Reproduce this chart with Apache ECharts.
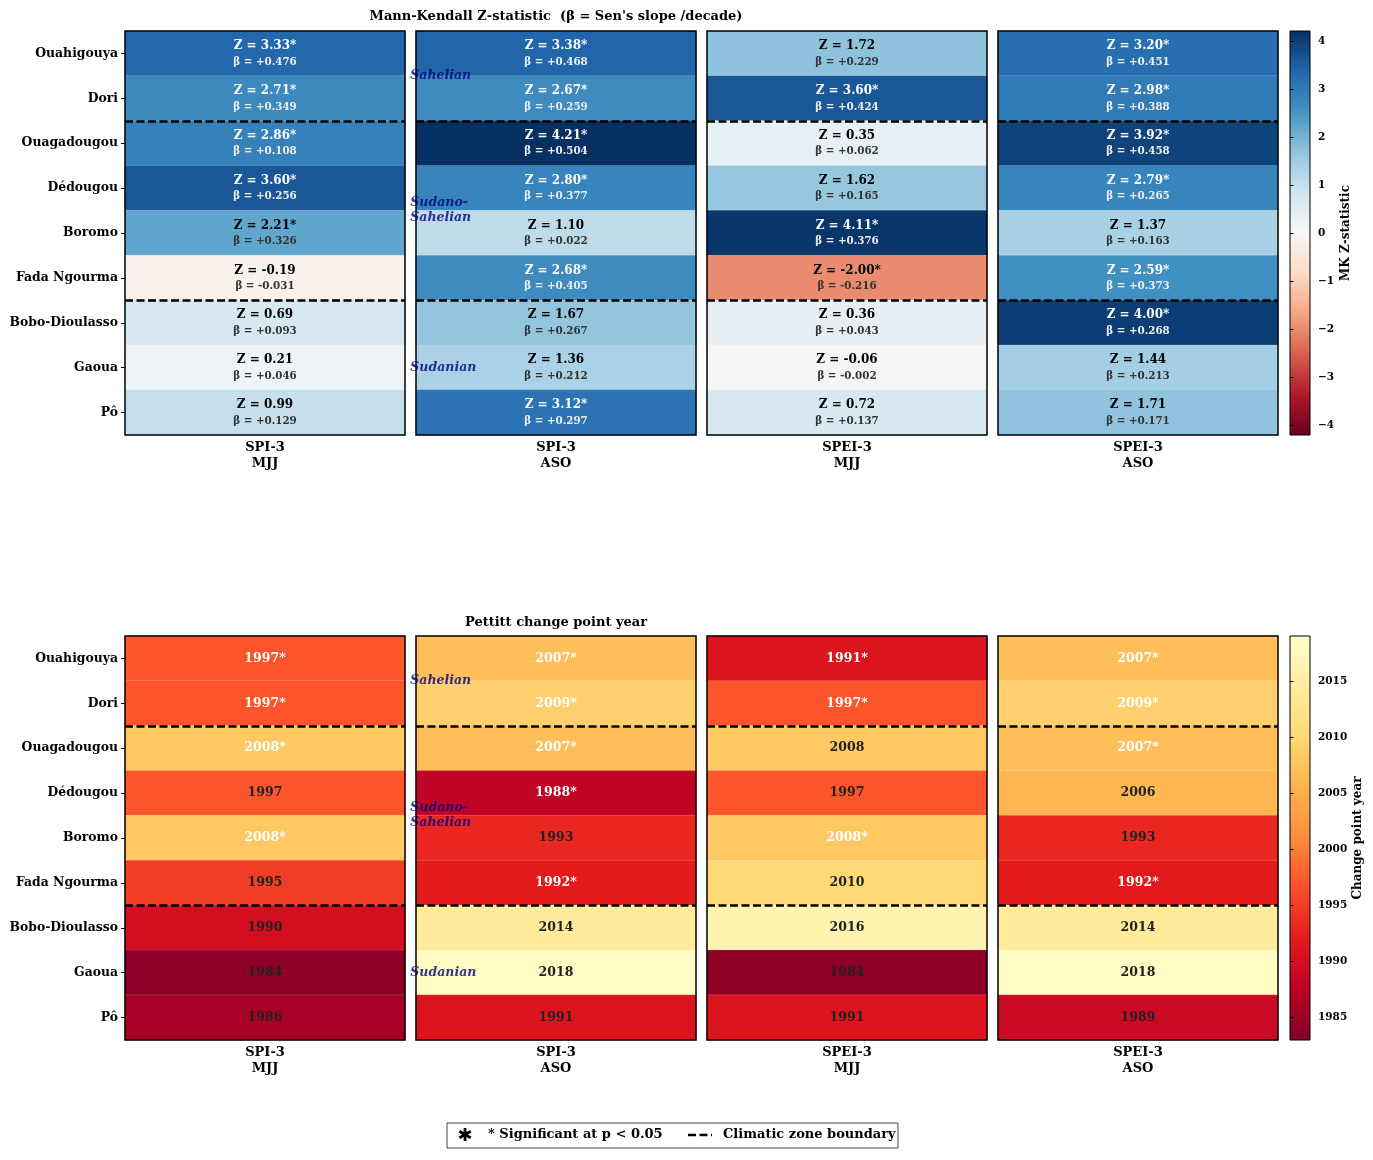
<!DOCTYPE html>
<html>
<head>
    <meta charset="utf-8"/>
    <title>Mann-Kendall and Pettitt</title>
</head>
<body style="margin:0;background:#fff">

<div id="main" style="width:1373px;height:1160px;"></div>

<script src="https://cdn.jsdelivr.net/npm/echarts@6.0.0/dist/echarts.min.js"></script>
<script>
    var stations = ['Ouahigouya', 'Dori', 'Ouagadougou', 'Dédougou', 'Boromo',
        'Fada Ngourma', 'Bobo-Dioulasso', 'Gaoua', 'Pô'];
    var zones = ['Sahelian', 'Sahelian', 'Sudano-Sahelian', 'Sudano-Sahelian', 'Sudano-Sahelian',
        'Sudano-Sahelian', 'Sudanian', 'Sudanian', 'Sudanian'];
    var columns = ['SPI-3\nMJJ', 'SPI-3\nASO', 'SPEI-3\nMJJ', 'SPEI-3\nASO'];

    // Mann-Kendall Z
    var zSpiMjj = [3.33, 2.71, 2.86, 3.60, 2.21, -0.19, 0.69, 0.21, 0.99];
    var zSpiAso = [3.38, 2.67, 4.21, 2.80, 1.10, 2.68, 1.67, 1.36, 3.12];
    var zSpeiMjj = [1.72, 3.60, 0.35, 1.62, 4.11, -2.00, 0.36, -0.06, 0.72];
    var zSpeiAso = [3.20, 2.98, 3.92, 2.79, 1.37, 2.59, 4.00, 1.44, 1.71];
    // Sen's slope /decade
    var betaSpiMjj = [0.476, 0.349, 0.108, 0.256, 0.326, -0.031, 0.093, 0.046, 0.129];
    var betaSpiAso = [0.468, 0.259, 0.504, 0.377, 0.022, 0.405, 0.267, 0.212, 0.297];
    var betaSpeiMjj = [0.229, 0.424, 0.062, 0.165, 0.376, -0.216, 0.043, -0.002, 0.137];
    var betaSpeiAso = [0.451, 0.388, 0.458, 0.265, 0.163, 0.373, 0.268, 0.213, 0.171];
    // MK significance (1 = p < 0.05)
    var zSigSpiMjj = [1, 1, 1, 1, 1, 0, 0, 0, 0];
    var zSigSpiAso = [1, 1, 1, 1, 0, 1, 0, 0, 1];
    var zSigSpeiMjj = [0, 1, 0, 0, 1, 1, 0, 0, 0];
    var zSigSpeiAso = [1, 1, 1, 1, 0, 1, 1, 0, 0];

    // Pettitt change point year
    var yearSpiMjj = [1997, 1997, 2008, 1997, 2008, 1995, 1990, 1984, 1986];
    var yearSpiAso = [2007, 2009, 2007, 1988, 1993, 1992, 2014, 2018, 1991];
    var yearSpeiMjj = [1991, 1997, 2008, 1997, 2008, 2010, 2016, 1984, 1991];
    var yearSpeiAso = [2007, 2009, 2007, 2006, 1993, 1992, 2014, 2018, 1989];
    var yearSigSpiMjj = [1, 1, 1, 0, 1, 0, 0, 0, 0];
    var yearSigSpiAso = [1, 1, 1, 1, 0, 1, 0, 0, 0];
    var yearSigSpeiMjj = [1, 1, 0, 0, 1, 0, 0, 0, 0];
    var yearSigSpeiAso = [1, 1, 1, 0, 0, 1, 0, 0, 0];

    var zTicks = [-4, -3, -2, -1, 0, 1, 2, 3, 4];
    var yearTicks = [1985, 1990, 1995, 2000, 2005, 2010, 2015];

    var zCols = [zSpiMjj, zSpiAso, zSpeiMjj, zSpeiAso];
    var betaCols = [betaSpiMjj, betaSpiAso, betaSpeiMjj, betaSpeiAso];
    var zSigCols = [zSigSpiMjj, zSigSpiAso, zSigSpeiMjj, zSigSpeiAso];
    var yearCols = [yearSpiMjj, yearSpiAso, yearSpeiMjj, yearSpeiAso];
    var yearSigCols = [yearSigSpiMjj, yearSigSpiAso, yearSigSpeiMjj, yearSigSpeiAso];

    var RDBU = ['#67001f', '#b2182b', '#d6604d', '#f4a582', '#fddbc7', '#f7f7f7',
        '#d1e5f0', '#92c5de', '#4393c3', '#2166ac', '#053061'];
    var YLORRD_R = ['#800026', '#bd0026', '#e31a1c', '#fc4e2a', '#fd8d3c', '#feb24c',
        '#fed976', '#ffeda0', '#ffffcc'];

    var FONT = '"DejaVu Serif", serif';
    var colLeft = [125, 416, 707, 998];
    var panelW = 280, panelH = 404;
    var blockTop = [31, 636];
    var cbLeft = 1290, cbW = 20;

    var zMax = 0;
    zCols.forEach(function (c) { c.forEach(function (v) { zMax = Math.max(zMax, Math.abs(v)); }); });
    var allYears = [].concat.apply([], yearCols);
    var yearMin = Math.min.apply(null, allYears) - 1;
    var yearMax = Math.max.apply(null, allYears) + 1;

    // zone boundaries and label centres
    var boundaries = [];
    var zoneCenters = [];
    var start = 0;
    for (var i = 1; i <= zones.length; i++) {
        if (i === zones.length || zones[i] !== zones[i - 1]) {
            zoneCenters.push([-0.022, (start + i) / 2, zones[start].replace('-', '-\n')]);
            if (i < zones.length) boundaries.push(i);
            start = i;
        }
    }

    function gradient(colors) {
        var n = colors.length;
        return {
            type: 'linear', x: 0, y: 0, x2: 0, y2: 1,
            colorStops: colors.map(function (c, k) {
                return {offset: 1 - k / (n - 1), color: c};
            }).reverse()
        };
    }

    var grid = [], xAxis = [], yAxis = [], series = [];

    for (var b = 0; b < 2; b++) {
        for (var c = 0; c < 4; c++) {
            var g = b * 4 + c;
            grid.push({
                left: colLeft[c], top: blockTop[b], width: panelW, height: panelH,
                show: true, borderColor: '#000', borderWidth: 1.5,
                backgroundColor: 'transparent', z: 5
            });
            xAxis.push({
                type: 'category', gridIndex: g, data: [columns[c]],
                axisLine: {show: false}, axisTick: {show: false}, splitLine: {show: false},
                axisLabel: {
                    color: '#000', fontFamily: FONT, fontWeight: 'bold', fontSize: 13,
                    lineHeight: 16, margin: 5
                }
            });
            xAxis.push({type: 'value', gridIndex: g, min: 0, max: 1, show: false});
            yAxis.push({
                type: 'category', gridIndex: g, data: stations, inverse: true,
                axisLine: {show: false}, splitLine: {show: false},
                axisTick: {show: c === 0, alignWithLabel: true, length: 4, lineStyle: {color: '#000'}},
                axisLabel: {
                    show: c === 0, color: '#000', fontFamily: FONT, fontWeight: 'bold',
                    fontSize: 12.4, margin: 7
                }
            });
            yAxis.push({type: 'value', gridIndex: g, min: 0, max: stations.length, inverse: true, show: false});
        }
    }

    // MK heatmaps
    for (var c = 0; c < 4; c++) {
        series.push({
            type: 'heatmap', xAxisIndex: 2 * c, yAxisIndex: 2 * c,
            data: stations.map(function (s, i) {
                return {value: [0, i, zCols[c][i]], beta: betaCols[c][i], sig: zSigCols[c][i]};
            }),
            itemStyle: {borderColor: 'rgba(255,255,255,0.3)', borderWidth: 0.5},
            emphasis: {disabled: true},
            label: {
                show: true,
                formatter: function (p) {
                    var z = p.data.value[2], beta = p.data.beta;
                    var zs = 'Z = ' + z.toFixed(2) + (p.data.sig ? '*' : '');
                    var bs = '\u03b2 = ' + (beta >= 0 ? '+' : '') + beta.toFixed(3);
                    return Math.abs(z) > 2.5 ? '{wz|' + zs + '}\n{wb|' + bs + '}'
                        : '{kz|' + zs + '}\n{kb|' + bs + '}';
                },
                rich: {
                    wz: {color: '#fff', fontFamily: FONT, fontWeight: 'bold', fontSize: 12, lineHeight: 17},
                    wb: {color: '#eeeeee', fontFamily: FONT, fontWeight: 'bold', fontSize: 10.3, lineHeight: 15},
                    kz: {color: '#000', fontFamily: FONT, fontWeight: 'bold', fontSize: 12, lineHeight: 17},
                    kb: {color: '#333', fontFamily: FONT, fontWeight: 'bold', fontSize: 10.3, lineHeight: 15}
                }
            }
        });
    }
    // Pettitt heatmaps
    for (var c = 0; c < 4; c++) {
        var g = 4 + c;
        series.push({
            type: 'heatmap', xAxisIndex: 2 * g, yAxisIndex: 2 * g,
            data: stations.map(function (s, i) {
                return {value: [0, i, yearCols[c][i]], sig: yearSigCols[c][i]};
            }),
            itemStyle: {borderColor: 'rgba(255,255,255,0.3)', borderWidth: 0.5},
            emphasis: {disabled: true},
            label: {
                show: true,
                formatter: function (p) {
                    return p.data.sig ? '{w|' + p.data.value[2] + '*}' : '{k|' + p.data.value[2] + '}';
                },
                rich: {
                    w: {color: '#fff', fontFamily: FONT, fontWeight: 'bold', fontSize: 12.5},
                    k: {color: '#222', fontFamily: FONT, fontWeight: 'bold', fontSize: 12.5}
                }
            }
        });
    }
    // zone boundaries
    for (var g = 0; g < 8; g++) {
        series.push({
            type: 'line', xAxisIndex: 2 * g + 1, yAxisIndex: 2 * g + 1, data: [], z: 4,
            markLine: {
                silent: true, animation: false, symbol: ['none', 'none'], label: {show: false},
                lineStyle: {color: '#000', width: 2.6, type: [8, 3.5]},
                data: boundaries.map(function (v) { return {yAxis: v}; })
            }
        });
    }
    // zone names
    [1, 5].forEach(function (g) {
        series.push({
            type: 'scatter', xAxisIndex: 2 * g + 1, yAxisIndex: 2 * g + 1, data: zoneCenters,
            symbolSize: 1, itemStyle: {color: 'rgba(0,0,0,0)'}, clip: false, silent: true, z: 6,
            label: {
                show: true, position: 'right', distance: 0,
                formatter: function (p) { return p.data[2]; },
                color: '#000080', fontFamily: FONT, fontWeight: 'bold', fontStyle: 'italic',
                fontSize: 12.5, lineHeight: 15, align: 'left'
            }
        });
    });

    // colour bars
    var cbDefs = [
        {min: -zMax, max: zMax, ticks: zTicks, colors: RDBU, name: 'MK Z-statistic', gap: 30,
            fmt: function (v) { return v < 0 ? '\u2212' + Math.abs(v) : String(v); }},
        {min: yearMin, max: yearMax, ticks: yearTicks, colors: YLORRD_R, name: 'Change point year', gap: 42,
            fmt: function (v) { return String(v); }}
    ];
    cbDefs.forEach(function (d, b) {
        var g = 8 + b;
        grid.push({
            left: cbLeft, top: blockTop[b], width: cbW, height: panelH,
            show: true, borderColor: '#000', borderWidth: 1, backgroundColor: gradient(d.colors)
        });
        xAxis.push({type: 'value', gridIndex: g, min: 0, max: 1, show: false});
        yAxis.push({
            type: 'value', gridIndex: g, position: 'right', min: d.min, max: d.max,
            axisLine: {show: false}, splitLine: {show: false},
            axisTick: {show: true, length: 3.5, customValues: d.ticks, lineStyle: {color: '#000'}},
            axisLabel: {
                customValues: d.ticks, formatter: d.fmt, color: '#000', fontFamily: FONT,
                fontWeight: 'bold', fontSize: 10.5, margin: 8
            },
            name: d.name, nameLocation: 'middle', nameRotate: 90, nameGap: d.gap,
            nameTextStyle: {color: '#000', fontFamily: FONT, fontWeight: 'bold', fontSize: 12}
        });
    });

    var legendFont = 'bold 13px ' + FONT;
    var graphic = [
        {type: 'text', x: 556, y: 17, style: {text: "Mann-Kendall Z-statistic  (\u03b2 = Sen's slope /decade)",
            font: legendFont, fill: '#000', textAlign: 'center', align: 'center',
            textVerticalAlign: 'middle', verticalAlign: 'middle'}},
        {type: 'text', x: 556, y: 623, style: {text: 'Pettitt change point year',
            font: legendFont, fill: '#000', textAlign: 'center', align: 'center',
            textVerticalAlign: 'middle', verticalAlign: 'middle'}},
        {type: 'rect', shape: {x: 447, y: 1123, width: 451, height: 25},
            style: {fill: '#fff', stroke: '#444', lineWidth: 1}},
        {type: 'text', x: 465, y: 1136, style: {text: '\u2731', font: 'bold 18px "DejaVu Sans"', fill: '#000',
            textAlign: 'center', align: 'center', textVerticalAlign: 'middle', verticalAlign: 'middle'}},
        {type: 'text', x: 488, y: 1135, style: {text: '* Significant at p < 0.05', font: legendFont, fill: '#000',
            textAlign: 'left', align: 'left', textVerticalAlign: 'middle', verticalAlign: 'middle'}},
        {type: 'line', shape: {x1: 688, y1: 1135, x2: 712, y2: 1135},
            style: {stroke: '#000', lineWidth: 2.6, lineDash: [8, 3.5]}},
        {type: 'text', x: 723, y: 1135, style: {text: 'Climatic zone boundary', font: legendFont, fill: '#000',
            textAlign: 'left', align: 'left', textVerticalAlign: 'middle', verticalAlign: 'middle'}}
    ];

    var myChart = echarts.init(document.getElementById('main'));
    myChart.setOption({
        animation: false,
        backgroundColor: '#fff',
        grid: grid,
        xAxis: xAxis,
        yAxis: yAxis,
        visualMap: [
            {type: 'continuous', show: false, seriesIndex: [0, 1, 2, 3], dimension: 2,
                min: -zMax, max: zMax, inRange: {color: RDBU}},
            {type: 'continuous', show: false, seriesIndex: [4, 5, 6, 7], dimension: 2,
                min: yearMin, max: yearMax, inRange: {color: YLORRD_R}}
        ],
        series: series,
        graphic: graphic
    });
</script>
</body>
</html>
